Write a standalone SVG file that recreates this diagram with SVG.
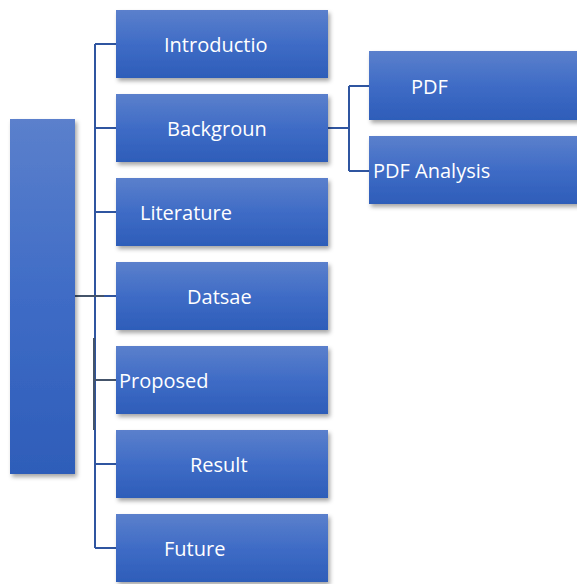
<svg xmlns="http://www.w3.org/2000/svg" width="577" height="584" viewBox="0 0 577 584">
  <defs>
    <linearGradient id="g" x1="0" y1="0" x2="0" y2="1">
      <stop offset="0" stop-color="#5B80CC"/>
      <stop offset="0.5" stop-color="#3F6CC6"/>
      <stop offset="1" stop-color="#2E5DB9"/>
    </linearGradient>
    <filter id="sh" x="-10%" y="-10%" width="130%" height="130%">
      <feDropShadow dx="2" dy="3" stdDeviation="2" flood-color="#000" flood-opacity="0.35"/>
    </filter>
  </defs>
  <style>
    .box { fill: url(#g); filter: url(#sh); }
    .lbl { font-family: "Open Sans", "Liberation Sans", sans-serif; font-size: 20px; fill: #FFFFFF; }
    .c { stroke: #2F55A0; stroke-width: 2; fill: none; }
    .s { stroke: #44546A; stroke-width: 2; fill: none; }
  </style>
  <rect width="577" height="584" fill="#FFFFFF"/>
  <g id="connectors">
    <path class="c" d="M95,44 V548"/>
    <path class="c" d="M95,44 H116 M95,128 H116 M95,212 H116 M95,296 H116 M95,464 H116 M95,548 H116"/>
    <path class="s" d="M75,296 H104"/>
    <path class="s" d="M94,338 V430 M94,380 H116"/>
    <path class="c" d="M328,128 H349 M349,86 V171 M349,86 H369 M349,171 H369"/>
  </g>
  <g id="root"><rect class="box" x="10" y="119" width="65" height="355"/></g>
  <g id="introductio"><rect class="box" x="116" y="10" width="212" height="68"/><text class="lbl" x="164" y="52">Introductio</text></g>
  <g id="backgroun"><rect class="box" x="116" y="94" width="212" height="68"/><text class="lbl" x="167" y="136">Backgroun</text></g>
  <g id="literature"><rect class="box" x="116" y="178" width="212" height="68"/><text class="lbl" x="140" y="220">Literature</text></g>
  <g id="datsae"><rect class="box" x="116" y="262" width="212" height="68"/><text class="lbl" x="187" y="304">Datsae</text></g>
  <g id="proposed"><rect class="box" x="116" y="346" width="212" height="68"/><text class="lbl" x="119" y="388">Proposed</text></g>
  <g id="result"><rect class="box" x="116" y="430" width="212" height="68"/><text class="lbl" x="190" y="472">Result</text></g>
  <g id="future"><rect class="box" x="116" y="514" width="212" height="68"/><text class="lbl" x="164" y="556">Future</text></g>
  <g id="pdf"><rect class="box" x="369" y="51" width="215" height="69"/><text class="lbl" x="411" y="94">PDF</text></g>
  <g id="pdf-analysis"><rect class="box" x="369" y="136" width="215" height="68"/><text class="lbl" x="373" y="178">PDF Analysis</text></g>
</svg>
